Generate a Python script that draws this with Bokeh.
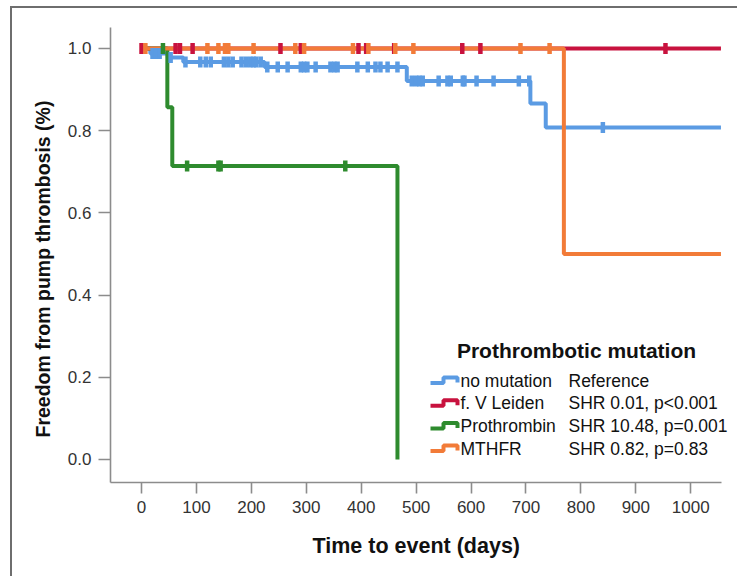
import numpy as np
from bokeh.plotting import figure
from bokeh.models import Range1d, Title, InlineStyleSheet
from bokeh.core.properties import value
from bokeh.embed import file_html
from bokeh.resources import INLINE

# ---------------- data ----------------
groups = ["no mutation", "f. V Leiden", "Prothrombin", "MTHFR"]
stats = ["Reference", "SHR 0.01, p<0.001", "SHR 10.48, p=0.001", "SHR 0.82, p=0.83"]
colors = ["#5b9be3", "#c8123e", "#2e8b2e", "#f27b38"]

# step curves: times where survival changes, and survival after that time
blue_t = [0, 16, 48, 76, 224, 483, 708, 736, 1055]
blue_s = [1.0, 0.988, 0.978, 0.967, 0.955, 0.921, 0.866, 0.808, 0.808]
red_t = [0, 1055]
red_s = [1.0, 1.0]
green_t = [0, 47, 56, 466]
green_s = [1.0, 0.857, 0.714, 0.0]
orange_t = [0, 769, 1055]
orange_s = [1.0, 0.5, 0.5]

# censored observations (days)
blue_c = [20, 26, 33, 53, 80, 107, 117, 126, 150, 158, 166, 182, 190, 198, 204,
          209, 217, 229, 248, 266, 290, 296, 302, 317, 344, 351, 357, 393, 412,
          426, 435, 448, 466, 492, 500, 506, 512, 541, 557, 563, 585, 588, 610,
          641, 687, 706, 840]
red_c = [0, 62, 70, 93, 253, 290, 395, 409, 460, 584, 617, 954]
green_c = [39, 83, 140, 144, 371]
orange_c = [7, 120, 140, 152, 158, 204, 280, 296, 385, 413, 462, 495, 690, 743]

x_ticks = [0, 100, 200, 300, 400, 500, 600, 700, 800, 900, 1000]
y_ticks = [0.0, 0.2, 0.4, 0.6, 0.8, 1.0]
x_title = "Time to event (days)"
y_title = "Freedom from pump thrombosis  (%)"
legend_title = "Prothrombotic mutation"

curves = [(blue_t, blue_s, blue_c), (red_t, red_s, red_c),
          (green_t, green_s, green_c), (orange_t, orange_s, orange_c)]

# ---------------- layout ----------------
W, H = 737, 576
FL, FR, FT, FB = 110, 0, 27, 94
X0, X_AXIS_END = -56.5, 1056
SCALE = 611 / (X_AXIS_END - X0)          # px per day
FW, FH = W - FL - FR, H - FT - FB
X1 = X0 + FW / SCALE
Y0, Y1 = -0.056, 1.051

def px2x(px):
    return X0 + (px - FL) / SCALE

def py2y(py):
    return Y1 - (py - FT) / FH * (Y1 - Y0)

FONT = "Liberation Sans"

p = figure(width=W, height=H, x_range=Range1d(X0, X1), y_range=Range1d(Y0, Y1),
           output_backend="svg", toolbar_location=None,
           min_border_left=FL, min_border_right=FR,
           min_border_top=FT, min_border_bottom=FB)
p.grid.visible = False
p.outline_line_color = None
p.background_fill_color = "white"
p.border_fill_color = None
# outer panel border of the original figure (left and top edges visible)
p.stylesheets = [InlineStyleSheet(css=(
    ":host { background: "
    "linear-gradient(#6e6e6e,#6e6e6e) 10px 6px / 2px 100% no-repeat, "
    "linear-gradient(#6e6e6e,#6e6e6e) 10px 6px / 100% 2px no-repeat, "
    "#ffffff; }"))]

for ax in (p.xaxis[0], p.yaxis[0]):
    ax.axis_line_color = "#8c8c8c"
    ax.axis_line_width = 1.6
    ax.major_tick_line_color = "#8c8c8c"
    ax.major_tick_line_width = 1.6
    ax.major_tick_in = 0
    ax.minor_tick_line_color = None
    ax.major_label_text_font = FONT
    ax.major_label_text_font_size = "17px"
    ax.major_label_text_color = "#333333"

p.xaxis.ticker = x_ticks
p.xaxis.bounds = (X0, X_AXIS_END)
p.xaxis.major_tick_out = 11
p.xaxis.major_label_standoff = 7

p.yaxis.ticker = y_ticks
p.yaxis.major_label_overrides = {t: f"{t:.1f}" for t in y_ticks}
p.yaxis.major_tick_out = 12
p.yaxis.major_label_standoff = 7

# axis titles as side titles so they can be positioned like the original
p.add_layout(Title(text=y_title, align="left", offset=45, standoff=21,
                   text_font=FONT, text_font_size="19.5px",
                   text_font_style="bold", text_color="#111111"), "left")
p.add_layout(Title(text=x_title, align="left", offset=202, standoff=32,
                   text_font=FONT, text_font_size="21.5px",
                   text_font_style="bold", text_color="#111111"), "below")

# curves
for (t, s, c), col in zip(curves, colors):
    p.step(x=t, y=s, mode="after", line_color=col, line_width=4)

# censor marks
for (t, s, c), col in zip(curves, colors):
    idx = np.searchsorted(np.array(t), np.array(c), side="right") - 1
    ys = np.array(s)[idx]
    p.rect(x=c, y=ys, width=4.5, height=11, width_units="screen",
           height_units="screen", fill_color=col, line_color=None)

# legend (manual)
p.text(x=[px2x(576)], y=[py2y(350)], text=[legend_title], text_font=value(FONT),
       text_font_size="21px", text_font_style="bold", text_color="#111111",
       text_align="center", text_baseline="middle")
row_py = [380 + 22.7 * i for i in range(len(groups))]
for i, (g, st, col) in enumerate(zip(groups, stats, colors)):
    py = row_py[i]
    xs = [px2x(v) for v in (430, 443, 443, 457, 457)]
    ys = [py2y(v) for v in (py + 2.5, py + 2.5, py - 3, py - 3, py + 2)]
    p.line(xs, ys, line_color=col, line_width=4)
    p.text(x=[px2x(460)], y=[py2y(py)], text=[g], text_font=value(FONT),
           text_font_size="17.5px", text_color="#111111",
           text_align="left", text_baseline="middle")
    p.text(x=[px2x(568)], y=[py2y(py)], text=[st], text_font=value(FONT),
           text_font_size="17.5px", text_color="#111111",
           text_align="left", text_baseline="middle")

open("out.html", "w").write(file_html(p, INLINE))
